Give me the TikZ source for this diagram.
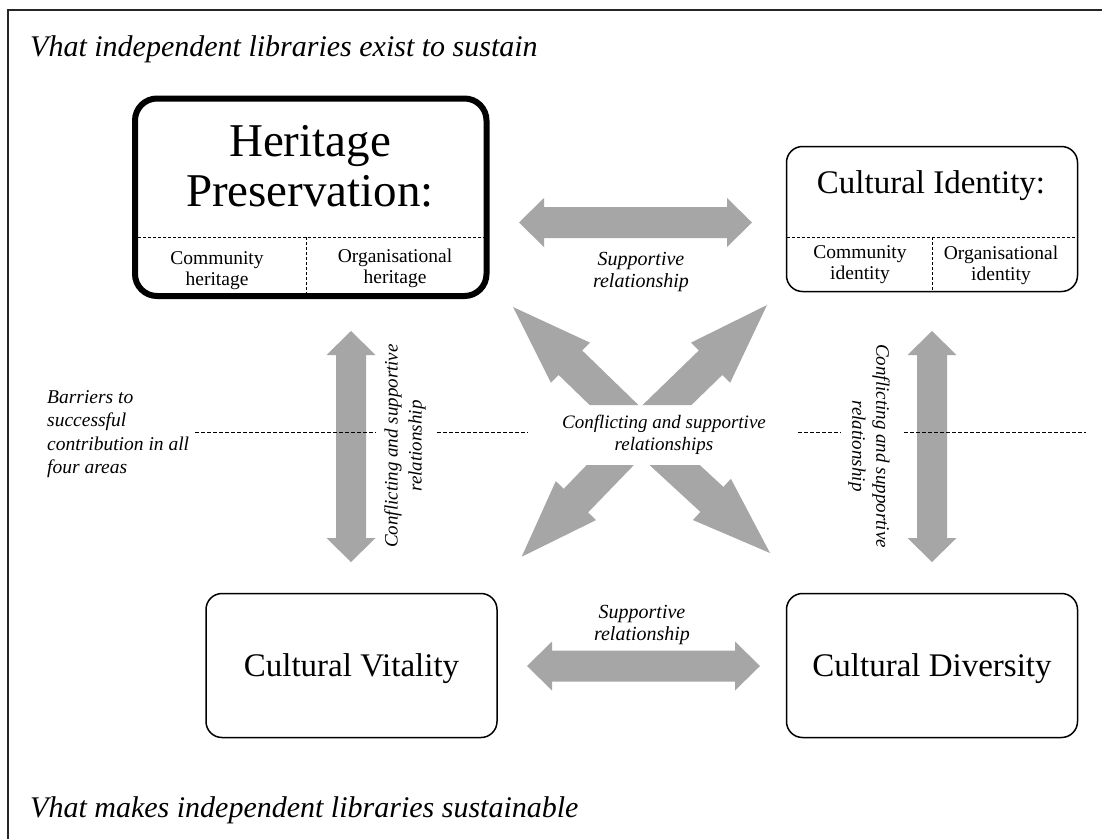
\documentclass[tikz,border=0pt]{standalone}
\usepackage{fontspec}
\setmainfont{Liberation Serif}
\definecolor{arrowgray}{RGB}{166,166,166}
\newcommand{\setfs}[2]{\fontsize{#1pt}{#2pt}\selectfont}
\begin{document}
\begin{tikzpicture}[x=1pt,y=-1pt,
  thickbox/.style={draw=black, line width=6pt, rounded corners=22pt, inner sep=0pt},
  thinbox/.style={draw=black, line width=1.5pt, rounded corners=16pt, inner sep=0pt},
  blockarrow/.style={fill=arrowgray, draw=none},
  divider/.style={draw=black, line width=0.8pt, dash pattern=on 3pt off 2pt},
  midline/.style={draw=black, line width=0.8pt, dash pattern=on 3.5pt off 2.5pt},
  boxtitle/.style={font=\setfs{47}{50}, align=center, inner sep=0pt},
  boxlabel/.style={font=\setfs{33}{36}, inner sep=0pt, anchor=base},
  sublabel/.style={font=\setfs{19.5}{21}, align=center, inner sep=0pt},
  relation/.style={font=\itshape\setfs{20}{22}, align=center, inner sep=0pt},
  heading/.style={font=\itshape\setfs{30}{32}, inner sep=0pt, anchor=base west},
]
\useasboundingbox (0,0) rectangle (1102,839);
\fill[white] (0,0) rectangle (1102,839);
\draw[line width=1.5pt, black!85] (8,839) -- (8,10) -- (1102,10);

% headings
\node[heading] (toptitle) at (30,56) {Vhat independent libraries exist to sustain};
\node[heading] (bottitle) at (30,817) {Vhat makes independent libraries sustainable};

% boxes
\node[thickbox, minimum width=351.5pt, minimum height=197.5pt] (heritage) at (310.75,197.25) {};
\node[thinbox, minimum width=291pt, minimum height=145pt] (identity) at (932,219) {};
\node[thinbox, minimum width=291pt, minimum height=144pt] (vitality) at (351.5,665.5) {};
\node[thinbox, minimum width=291pt, minimum height=144pt] (diversity) at (932,665.5) {};

% dividers in boxes
\draw[divider] (138,237) -- (483.5,237);
\draw[divider] (306,237) -- (306,293);
\draw[divider] (787,237) -- (1077,237);
\draw[divider] (932,237) -- (932,291);

% box texts
\node[boxtitle] (herT) at (310,166) {Heritage\\Preservation:};
\node[sublabel] (herA) at (217,271) {Community\\heritage};
\node[sublabel] (herB) at (395,268) {Organisational\\heritage};
\node[boxlabel] (idT) at (931,193) {Cultural Identity:};
\node[sublabel] (idA) at (860,265) {Community\\identity};
\node[sublabel] (idB) at (1001,265) {Organisational\\identity};
\node[boxlabel] (vitT) at (351.5,676) {Cultural Vitality};
\node[boxlabel] (divT) at (932,676) {Cultural Diversity};

% straight double arrows
\fill[blockarrow] (519,222.5) -- (544,198) -- (544,207) -- (727,207) -- (727,198) -- (752,222.5)
  -- (727,247) -- (727,238) -- (544,238) -- (544,247) -- cycle;
\fill[blockarrow] (527,666) -- (552,641.5) -- (552,650.5) -- (735,650.5) -- (735,641.5) -- (760,666)
  -- (735,690.5) -- (735,681.5) -- (552,681.5) -- (552,690.5) -- cycle;
\fill[blockarrow] (351,331) -- (375.5,355) -- (366,355) -- (366,538) -- (375.5,538) -- (351,562)
  -- (326.5,538) -- (336,538) -- (336,355) -- (326.5,355) -- cycle;
\fill[blockarrow] (932,331) -- (956.5,355) -- (947,355) -- (947,538) -- (956.5,538) -- (932,562)
  -- (907.5,538) -- (917,538) -- (917,355) -- (907.5,355) -- cycle;

% diagonal arrows
\fill[blockarrow] (513,307) -- (589.9,342.6) -- (582.2,350.5) -- (638.4,405) -- (589.6,405)
  -- (558.6,374.9) -- (550.9,382.8) -- cycle;
\fill[blockarrow] (767,305) -- (691.1,342.6) -- (698.8,350.5) -- (642.6,405) -- (691.4,405)
  -- (722.4,374.9) -- (730.1,382.8) -- cycle;
\fill[blockarrow] (521.7,556.7) -- (555.8,481.1) -- (563.7,488.8) -- (586.7,465) -- (633.9,465)
  -- (588.1,512.4) -- (596.0,520.1) -- cycle;
\fill[blockarrow] (770,553) -- (730.9,478.8) -- (723.4,486.9) -- (699.7,465) -- (649.5,465)
  -- (700.4,511.9) -- (692.9,520.0) -- cycle;

% middle dashed line
\draw[midline] (195,432) -- (376,432);
\draw[midline] (437,432) -- (528,432);
\draw[midline] (798,432) -- (841,432);
\draw[midline] (904,432) -- (1086,432);

% relation labels
\node[relation] (supTop) at (641,271.5) {Supportive\\relationship};
\node[relation] (supBot) at (642,624.5) {Supportive\\relationship};
\node[relation, font=\itshape\setfs{19}{22}] (center) at (664,434.5) {Conflicting and supportive\\relationships};
\node[relation, font=\itshape\setfs{19}{24}, rotate=90] (confL) at (405,446) {Conflicting and supportive\\relationship};
\node[relation, font=\itshape\setfs{19}{24}, rotate=-90] (confR) at (869,446) {Conflicting and supportive\\relationship};
\node[relation, align=left, anchor=west, font=\itshape\setfs{19.5}{23.5}] (barriers) at (47,434)
  {Barriers to\\successful\\contribution in all\\four areas};
\end{tikzpicture}
\end{document}
